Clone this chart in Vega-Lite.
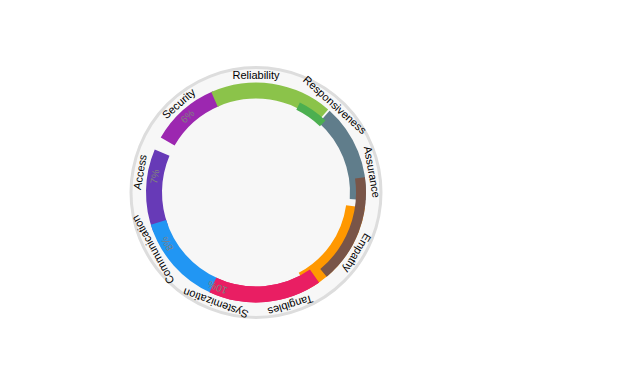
{
  "$schema": "https://vega.github.io/schema/vega-lite/v6.json",
  "width": 512,
  "height": 385,
  "padding": 0,
  "autosize": {"type": "none"},
  "background": "white",
  "config": {"view": {"stroke": null}, "font": "Liberation Sans"},
  "datasets": {
    "segments": [
      {"name": "Security", "start": 300, "end": 337},
      {"name": "Reliability", "start": -24, "end": 41},
      {"name": "Assurance", "start": 42, "end": 94},
      {"name": "Tangibles", "start": 98, "end": 152},
      {"name": "Systemization", "start": 145, "end": 205},
      {"name": "Access", "start": 249, "end": 293},
      {"name": "Communication", "start": 204, "end": 253},
      {"name": "Responsiveness", "start": 26, "end": 44},
      {"name": "Empathy", "start": 82, "end": 140}
    ],
    "labels": [
      {"name": "Reliability", "mid": 0},
      {"name": "Responsiveness", "mid": 42},
      {"name": "Assurance", "mid": 80},
      {"name": "Empathy", "mid": 121},
      {"name": "Tangibles", "mid": 163},
      {"name": "Systemization", "mid": 200},
      {"name": "Communication", "mid": 241},
      {"name": "Access", "mid": 280},
      {"name": "Security", "mid": 319}
    ],
    "pct": [
      {"label": "6%", "mid": 318},
      {"label": "7%", "mid": 279},
      {"label": "8%", "mid": 240},
      {"label": "10%", "mid": 202}
    ]
  },
  "layer": [
    {
      "data": {"values": [{"ring": "outer"}]},
      "mark": {"type": "arc", "theta": 0, "theta2": 6.2832, "radius": 125, "fill": "#f7f7f7", "stroke": "#dddddd", "strokeWidth": 3},
      "encoding": {}
    },
    {
      "data": {"name": "segments"},
      "transform": [{"filter": "datum.name !== 'Responsiveness' && datum.name !== 'Empathy' && datum.name !== 'Tangibles'"}],
      "mark": {"type": "arc", "radius": 110, "radius2": 94},
      "encoding": {
        "theta": {"field": "start", "type": "quantitative", "stack": null, "scale": {"domain": [0, 360], "nice": false, "zero": false}},
        "theta2": {"field": "end"},
        "color": {"field": "name", "type": "nominal", "legend": null,
          "scale": {"domain": ["Reliability", "Responsiveness", "Assurance", "Empathy", "Tangibles", "Systemization", "Communication", "Access", "Security"],
                    "range": ["#8bc34a", "#4caf50", "#607d8b", "#795548", "#ff9800", "#e91e63", "#2196f3", "#673ab7", "#9c27b0"]}}
      }
    },
    {
      "data": {"name": "segments"},
      "transform": [{"filter": "datum.name === 'Tangibles'"}],
      "mark": {"type": "arc", "radius": 110, "radius2": 91},
      "encoding": {
        "theta": {"field": "start", "type": "quantitative", "stack": null},
        "theta2": {"field": "end"},
        "color": {"field": "name", "type": "nominal", "legend": null}
      }
    },
    {
      "data": {"name": "segments"},
      "transform": [{"filter": "datum.name === 'Systemization'"}],
      "mark": {"type": "arc", "radius": 110, "radius2": 94},
      "encoding": {
        "theta": {"field": "start", "type": "quantitative", "stack": null},
        "theta2": {"field": "end"},
        "color": {"field": "name", "type": "nominal", "legend": null}
      }
    },
    {
      "data": {"name": "segments"},
      "transform": [{"filter": "datum.name === 'Responsiveness'"}],
      "mark": {"type": "arc", "radius": 100, "radius2": 92},
      "encoding": {
        "theta": {"field": "start", "type": "quantitative", "stack": null},
        "theta2": {"field": "end"},
        "color": {"field": "name", "type": "nominal", "legend": null}
      }
    },
    {
      "data": {"name": "segments"},
      "transform": [{"filter": "datum.name === 'Empathy'"}],
      "mark": {"type": "arc", "radius": 110, "radius2": 100},
      "encoding": {
        "theta": {"field": "start", "type": "quantitative", "stack": null},
        "theta2": {"field": "end"},
        "color": {"field": "name", "type": "nominal", "legend": null}
      }
    },
    {
      "data": {"name": "labels"},
      "mark": {"type": "text", "radius": 117, "fontSize": 11, "color": "#000000", "align": "center", "baseline": "middle"},
      "encoding": {
        "theta": {"field": "mid", "type": "quantitative", "stack": null},
        "angle": {"field": "mid", "type": "quantitative", "scale": {"domain": [0, 360], "range": [0, 360]}},
        "text": {"field": "name"}
      }
    },
    {
      "data": {"name": "pct"},
      "mark": {"type": "text", "radius": 102, "fontSize": 10, "color": "#808080", "opacity": 1, "align": "center", "baseline": "middle"},
      "encoding": {
        "theta": {"field": "mid", "type": "quantitative", "stack": null},
        "angle": {"field": "mid", "type": "quantitative"},
        "text": {"field": "label"}
      }
    }
  ]
}
